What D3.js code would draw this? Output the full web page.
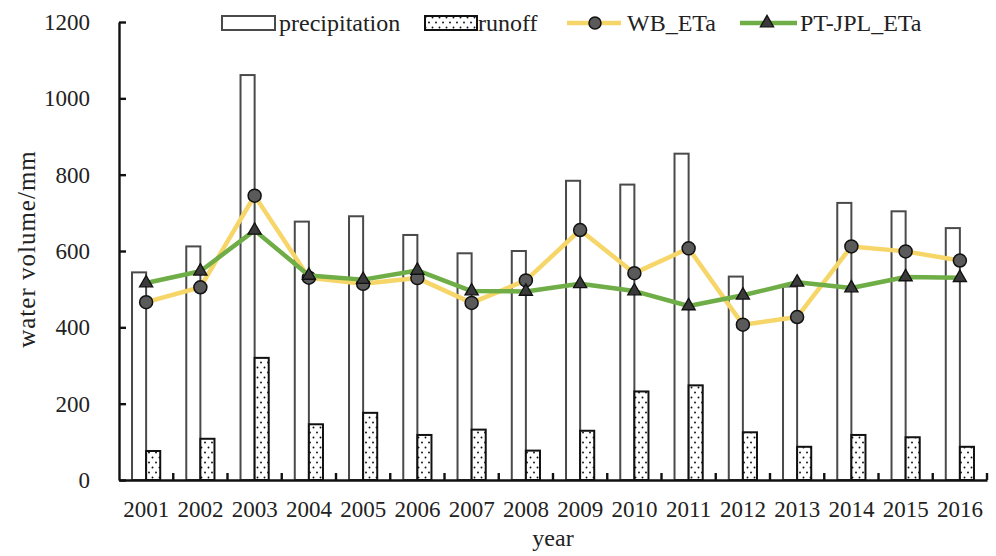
<!DOCTYPE html>
<html>
<head>
<meta charset="utf-8">
<script src="https://cdn.jsdelivr.net/npm/d3@7"></script>
<style>
  html, body { margin: 0; padding: 0; background: #fff; }
  svg { display: block; font-family: "Liberation Serif", "Times New Roman", serif; }
</style>
</head>
<body>
<svg id="chart" width="996" height="556"></svg>
<script>
// Annual water balance components, 2001-2016 (mm)
const years = ["2001","2002","2003","2004","2005","2006","2007","2008",
               "2009","2010","2011","2012","2013","2014","2015","2016"];
const precipitation = [544, 612, 1061, 677, 691, 642, 594, 600, 784, 774, 855, 533, 507, 726, 704, 660];
const runoff        = [76, 108, 320, 146, 176, 118, 132, 77, 129, 232, 248, 125, 87, 118, 112, 87];
const wbETa         = [466, 505, 745, 530, 514, 529, 464, 523, 655, 542, 607, 407, 427, 612, 599, 575];
const ptjplETa      = [516, 547, 654, 536, 525, 549, 495, 494, 514, 495, 456, 484, 518, 503, 532, 530];
const yTicks = [0, 200, 400, 600, 800, 1000, 1200];

const svg = d3.select("#chart");
const plotLeft = 119, plotRight = 987, plotTop = 22, plotBottom = 480;

const x = d3.scaleBand().domain(years).range([plotLeft, plotRight]).padding(0);
const y = d3.scaleLinear().domain([0, 1200]).range([plotBottom, plotTop]);
const barW = x.bandwidth() * 0.26;
const cx = d => x(d) + x.bandwidth() / 2;

// dotted fill for runoff bars
const defs = svg.append("defs");
const pat = defs.append("pattern")
  .attr("id", "dots").attr("patternUnits", "userSpaceOnUse")
  .attr("width", 7).attr("height", 10);
pat.append("rect").attr("width", 7).attr("height", 10).attr("fill", "#fff");
pat.append("circle").attr("cx", 2).attr("cy", 2.5).attr("r", 0.95).attr("fill", "#111");
pat.append("circle").attr("cx", 5.5).attr("cy", 7.5).attr("r", 0.95).attr("fill", "#111");

// precipitation bars
svg.append("g").selectAll("rect")
  .data(years)
  .join("rect")
  .attr("x", (d) => cx(d) - barW)
  .attr("y", (d, i) => y(precipitation[i]))
  .attr("width", barW)
  .attr("height", (d, i) => y(0) - y(precipitation[i]))
  .attr("fill", "#fff")
  .attr("stroke", "#4a4a4a")
  .attr("stroke-width", 2);

// runoff bars
svg.append("g").selectAll("rect")
  .data(years)
  .join("rect")
  .attr("x", (d) => cx(d))
  .attr("y", (d, i) => y(runoff[i]))
  .attr("width", barW)
  .attr("height", (d, i) => y(0) - y(runoff[i]))
  .attr("fill", "url(#dots)")
  .attr("stroke", "#111")
  .attr("stroke-width", 2);

// axes
const yAxis = d3.axisLeft(y).tickValues(yTicks).tickFormat(d3.format("d"))
  .tickSize(-7).tickPadding(29).tickSizeOuter(0);
const gy = svg.append("g").attr("transform", `translate(${plotLeft},0)`).call(yAxis);
gy.select(".domain").attr("stroke", "#111").attr("stroke-width", 2.4);
gy.selectAll(".tick line").attr("stroke", "#111").attr("stroke-width", 2.4);
gy.selectAll(".tick text").attr("font-size", 23).attr("fill", "#222")
  .attr("font-family", "Liberation Serif");

const xAxis = d3.axisBottom(x).tickSize(0).tickPadding(21);
const gx = svg.append("g").attr("transform", `translate(0,${plotBottom})`).call(xAxis);
gx.select(".domain").attr("stroke", "#111").attr("stroke-width", 2.4);
gx.selectAll(".tick text").attr("font-size", 23).attr("fill", "#222")
  .attr("font-family", "Liberation Serif");

// category separators on the x axis
const edges = years.map(d => x(d)).concat([plotRight]).slice(1);
svg.append("g").selectAll("line")
  .data(edges)
  .join("line")
  .attr("x1", d => d).attr("x2", d => d)
  .attr("y1", plotBottom).attr("y2", plotBottom - 7)
  .attr("stroke", "#111").attr("stroke-width", 2.4);

// lines
const line = d3.line().x((d, i) => cx(years[i])).y(d => y(d));
svg.append("path").datum(wbETa)
  .attr("d", line).attr("fill", "none")
  .attr("stroke", "#f7d669").attr("stroke-width", 4.5).attr("stroke-linejoin", "round");
svg.append("g").selectAll("circle")
  .data(wbETa)
  .join("circle")
  .attr("cx", (d, i) => cx(years[i])).attr("cy", d => y(d))
  .attr("r", 6.5).attr("fill", "#5a5a5a").attr("stroke", "#111").attr("stroke-width", 1.5);

svg.append("path").datum(ptjplETa)
  .attr("d", line).attr("fill", "none")
  .attr("stroke", "#6fad47").attr("stroke-width", 4.5).attr("stroke-linejoin", "round");
const tri = d3.symbol().type(d3.symbolTriangle).size(75);
svg.append("g").selectAll("path")
  .data(ptjplETa)
  .join("path")
  .attr("d", tri)
  .attr("transform", (d, i) => `translate(${cx(years[i])},${y(d)})`)
  .attr("fill", "#3a3a3a").attr("stroke", "#111").attr("stroke-width", 1.3);

// axis titles
svg.append("text")
  .attr("x", 553).attr("y", 546)
  .attr("text-anchor", "middle").attr("font-size", 24).attr("fill", "#222")
  .text("year");
svg.append("text")
  .attr("transform", "translate(35,249) rotate(-90)")
  .attr("text-anchor", "middle").attr("font-size", 25).attr("letter-spacing", 1)
  .attr("fill", "#222")
  .text("water volume/mm");

// legend
const lg = svg.append("g").attr("font-size", 24).attr("fill", "#222");
lg.append("rect").attr("x", 222).attr("y", 16).attr("width", 53).attr("height", 14)
  .attr("fill", "#fff").attr("stroke", "#4a4a4a").attr("stroke-width", 2);
lg.append("text").attr("x", 279).attr("y", 31).text("precipitation");
lg.append("rect").attr("x", 425).attr("y", 16).attr("width", 52).attr("height", 14)
  .attr("fill", "url(#dots)").attr("stroke", "#111").attr("stroke-width", 2);
lg.append("text").attr("x", 478).attr("y", 31).text("runoff");
lg.append("line").attr("x1", 567).attr("x2", 621).attr("y1", 23).attr("y2", 23)
  .attr("stroke", "#f7d669").attr("stroke-width", 4.5);
lg.append("circle").attr("cx", 595).attr("cy", 23).attr("r", 6)
  .attr("fill", "#5a5a5a").attr("stroke", "#111").attr("stroke-width", 1.5);
lg.append("text").attr("x", 627).attr("y", 31).text("WB_ETa");
lg.append("line").attr("x1", 740).attr("x2", 797).attr("y1", 23).attr("y2", 23)
  .attr("stroke", "#6fad47").attr("stroke-width", 4.5);
lg.append("path").attr("d", tri).attr("transform", "translate(767,23)")
  .attr("fill", "#3a3a3a").attr("stroke", "#111").attr("stroke-width", 1.3);
lg.append("text").attr("x", 800).attr("y", 31).text("PT-JPL_ETa");
</script>
</body>
</html>
